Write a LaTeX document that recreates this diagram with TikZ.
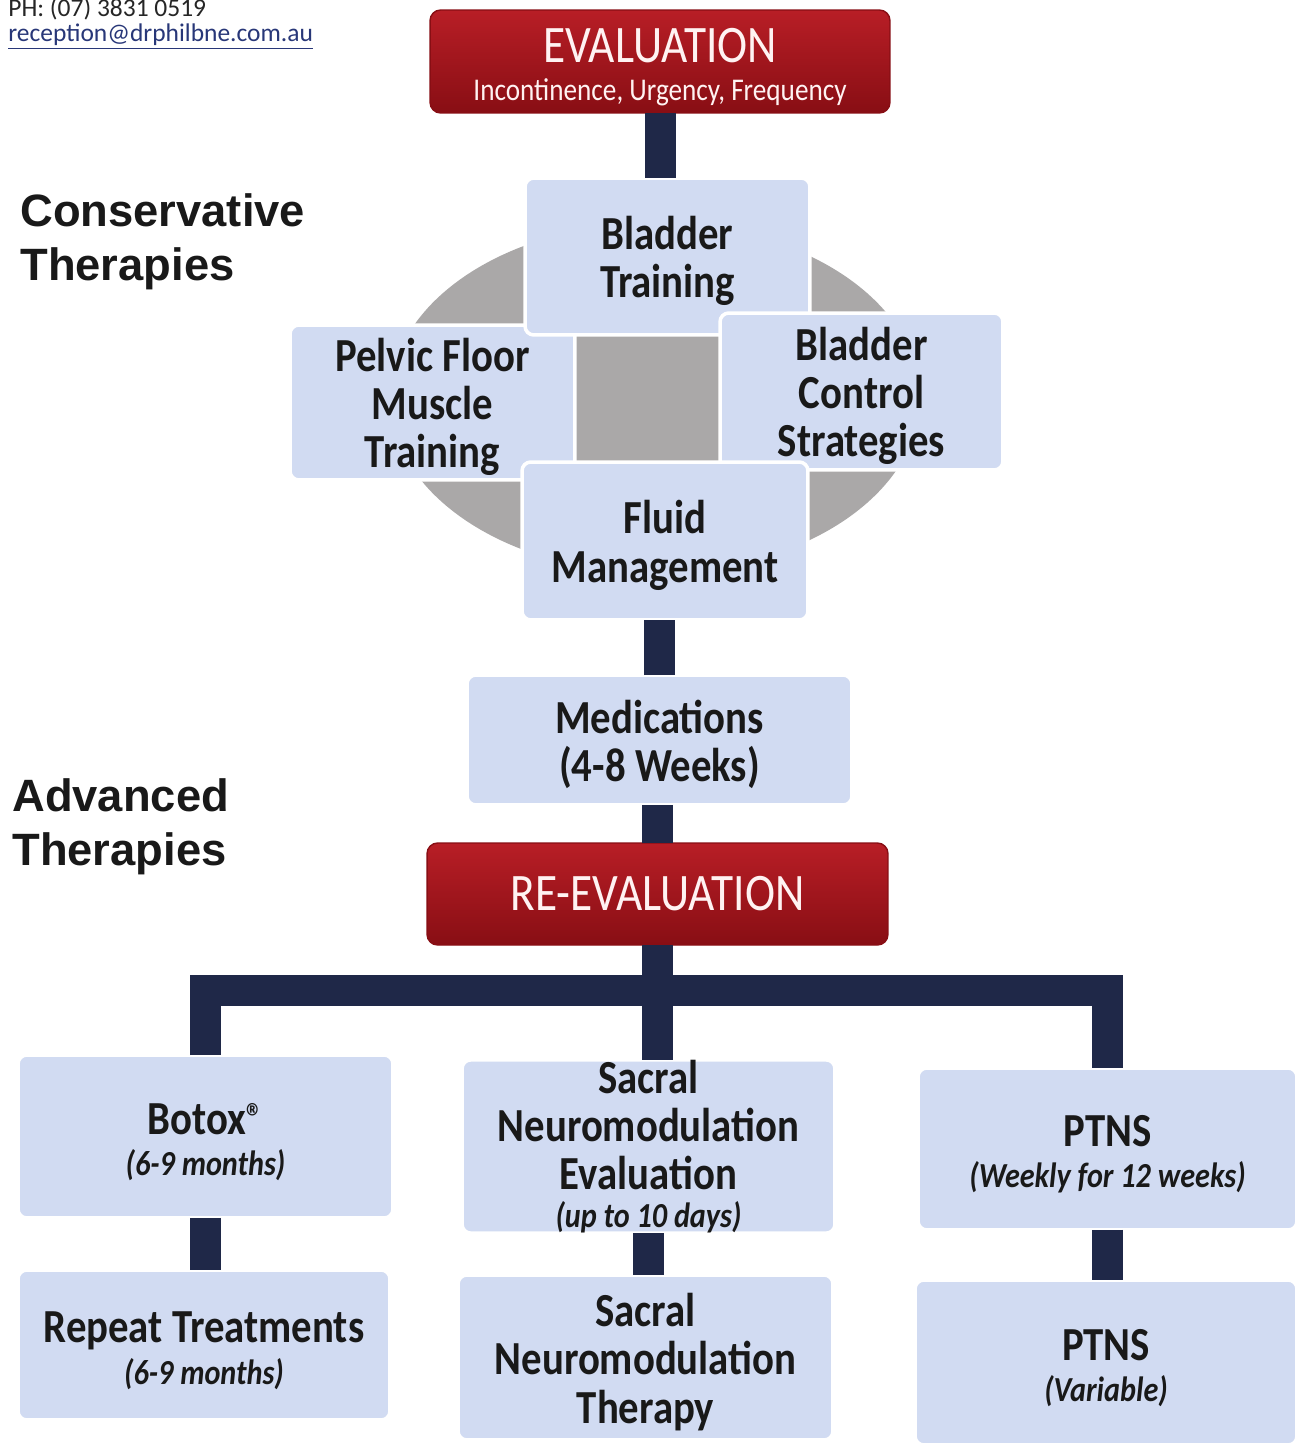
\documentclass[tikz,border=0pt]{standalone}
\usepackage{fontspec}
\setmainfont{Carlito}
\newfontfamily\boxfont[FakeStretch=0.86]{Carlito}
\newfontfamily\labelfont{Liberation Sans}

\definecolor{evalredtop}{RGB}{184,30,38}
\definecolor{evalredbot}{RGB}{136,14,20}
\definecolor{boxblue}{RGB}{209,219,242}
\definecolor{discgrey}{RGB}{170,168,168}
\definecolor{barnavy}{RGB}{31,40,72}
\definecolor{maillink}{RGB}{40,55,120}

\newcommand{\topgap}{\rule{0pt}{24pt}}
\newcommand{\subnote}[1]{{\itshape\fontsize{20}{27.5}\selectfont #1}}
\newcommand{\regmark}{{\fontsize{22}{22}\selectfont\raisebox{2pt}{\textregistered}}}

\begin{document}
\begin{tikzpicture}[
            x=0.02cm, y=-0.02cm,
            redbox/.style={rounded corners=6pt, draw=evalredbot, line width=0.8pt,
                top color=evalredtop, bottom color=evalredbot, text=white!95!red,
                inner sep=0pt, outer sep=0pt, align=center,
                font=\boxfont\fontsize{30}{25}\selectfont},
            bluebox/.style={rounded corners=5pt, fill=boxblue, draw=white, line width=2pt,
                inner sep=0pt, outer sep=0pt, align=center, text=black!90,
                font=\boxfont\bfseries\fontsize{27}{27.5}\selectfont},
            bar/.style={draw=barnavy, line width=0.62cm, line join=miter},
            sidelabel/.style={anchor=west, align=left, text=black!90, inner sep=0pt,
                font=\labelfont\bfseries\fontsize{25.8}{31}\selectfont},
            ]
            \fill[white] (0,0) rectangle (1300,1449);
            \useasboundingbox (0,0) rectangle (1300,1449);

            % contact lines, top left
            \node[anchor=base west, inner sep=0pt, text=black!85, font=\fontsize{14.5}{16}\selectfont] (phone) at (8,17) {PH: (07) 3831 0519};
            \node[anchor=base west, inner sep=0pt, text=maillink, font=\fontsize{14.5}{16}\selectfont] (mail) at (8,42) {\underline{reception@drphilbne.com.au}};

            \node[sidelabel] (conslabel) at (20,242) {Conservative\\Therapies};
            \node[sidelabel] (advlabel) at (12,827) {Advanced\\Therapies};

            \node[redbox, minimum width=9.2cm, minimum height=2.06cm] (eval) at (660,61.5)
                {\rule{0pt}{26pt}EVALUATION\\[-3.4pt]{\fontsize{18}{25}\selectfont Incontinence, Urgency, Frequency}};

            % conservative therapies
            \fill[discgrey] (655,398) ellipse [x radius=5.3cm, y radius=3.5cm];
            \node[bluebox, minimum width=5.7cm, minimum height=3.1cm] (pelvic) at (432.5,402.5) {\topgap Pelvic Floor\\Muscle\\Training};
            \node[bluebox, minimum width=5.7cm, minimum height=3.14cm] (bladder) at (667.5,256.5) {\topgap Bladder\\Training};
            \node[bluebox, minimum width=5.66cm, minimum height=3.14cm] (control) at (861.5,391.5) {\topgap Bladder\\Control\\Strategies};
            \node[bluebox, minimum width=5.72cm, minimum height=3.16cm] (fluid) at (665,541) {\topgap Fluid\\Management};

            \node[bluebox, minimum width=7.7cm, minimum height=2.6cm] (meds) at (659.5,740) {\topgap Medications\\(4-8 Weeks)};

            \node[redbox, minimum width=9.22cm, minimum height=2.04cm] (reeval) at (657.5,894) {RE-EVALUATION};

            % advanced therapies
            \node[bluebox, minimum width=7.5cm, minimum height=3.26cm] (botox) at (205.5,1136.5)
                {\topgap Botox\regmark\\[-4pt]\subnote{(6-9 months)}};
            \node[bluebox, minimum width=7.46cm, minimum height=3.26cm] (sacral) at (648.5,1146.5)
                {Sacral\\Neuromodulation\\Evaluation\\[-6pt]\subnote{(up to 10 days)}};
            \node[bluebox, minimum width=7.58cm, minimum height=3.24cm] (ptns) at (1107.5,1149)
                {\topgap PTNS\\[-4pt]\subnote{(Weekly for 12 weeks)}};

            \node[bluebox, minimum width=7.44cm, minimum height=3.0cm] (repeat) at (204,1345)
                {\topgap Repeat Treatments\\[-4pt]\subnote{(6-9 months)}};
            \node[bluebox, minimum width=7.5cm, minimum height=3.3cm] (snmtherapy) at (645.5,1357.5)
                {\topgap Sacral\\Neuromodulation\\Therapy};
            \node[bluebox, minimum width=7.64cm, minimum height=3.3cm] (ptnsvar) at (1106,1362.5)
                {\topgap PTNS\\[-4pt]\subnote{(Variable)}};

            % connectors
            \draw[bar] (eval.south) -- (eval.south |- bladder.north);
            \draw[bar] (meds.north) -- (meds.north |- fluid.south);
            \draw[bar] (reeval.north) -- (reeval.north |- meds.south);
            \coordinate (split) at (657.5,990);
            \draw[bar] (reeval.south) -- (reeval.south |- sacral.north);
            \draw[bar] (botox.north) |- (split) -| (ptns.north);
            \draw[bar] (botox.south) -- (botox.south |- repeat.north);
            \draw[bar] (sacral.south) -- (sacral.south |- snmtherapy.north);
            \draw[bar] (ptns.south) -- (ptns.south |- ptnsvar.north);
        \end{tikzpicture}
\end{document}
